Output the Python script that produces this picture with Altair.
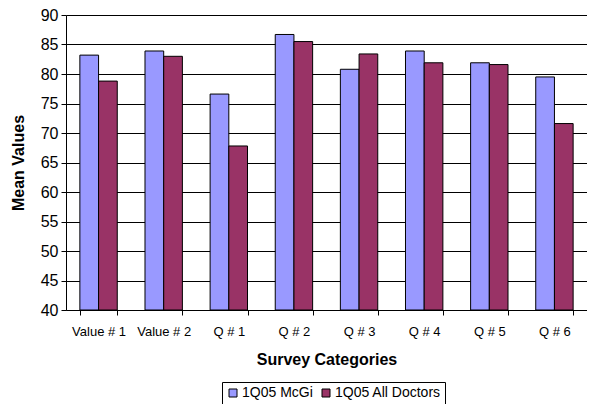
import altair as alt
import pandas as pd

categories = ["Value  # 1", "Value # 2", "Q # 1", "Q # 2", "Q # 3", "Q # 4", "Q # 5", "Q  # 6"]
series = ["1Q05 McGi", "1Q05 All Doctors"]
mcgi = [83.2, 83.9, 76.6, 86.7, 80.8, 83.9, 81.9, 79.5]
all_doctors = [78.8, 83.0, 67.8, 85.5, 83.4, 81.9, 81.6, 71.6]
colors = ["#9999FF", "#993366"]

rows = []
for c, a, b in zip(categories, mcgi, all_doctors):
    rows.append({"cat": c, "series": series[0], "value": a})
    rows.append({"cat": c, "series": series[1], "value": b})
df = pd.DataFrame(rows)

FONT = "Liberation Sans"

chart = alt.Chart(df).mark_bar(stroke="black", strokeWidth=1).encode(
    x=alt.X("cat:N", sort=categories,
            scale=alt.Scale(paddingInner=0.426, paddingOuter=0.213),
            axis=alt.Axis(title="Survey Categories", labelAngle=0, grid=False,
                          tickBand="extent", domainColor="black", tickColor="black",
                          tickSize=5, labelFontSize=13, labelPadding=10,
                          titleFontSize=16, titleFontWeight="bold", titlePadding=13,
                          labelColor="black", titleColor="black", labelFont=FONT, titleFont=FONT)),
    xOffset=alt.XOffset("series:N", sort=series, scale=alt.Scale(paddingInner=0, paddingOuter=0)),
    y=alt.Y("value:Q", scale=alt.Scale(domain=[40, 90], zero=False, nice=False),
            axis=alt.Axis(title="Mean Values", values=list(range(40, 91, 5)), grid=True,
                          gridColor="black", gridOpacity=1, domainColor="black",
                          tickColor="black", tickSize=5, labelFontSize=16, labelPadding=3,
                          titleFontSize=16, titleFontWeight="bold", titlePadding=14,
                          labelColor="black", titleColor="black", labelFont=FONT, titleFont=FONT)),
    y2=alt.datum(40),
    color=alt.Color("series:N", sort=series,
                    scale=alt.Scale(domain=series, range=colors),
                    legend=alt.Legend(title=None, orient="none", legendX=156, legendY=367,
                                      direction="horizontal", strokeColor="black", padding=4,
                                      symbolType="square", symbolSize=64,
                                      symbolStrokeColor="black", symbolStrokeWidth=1,
                                      labelFontSize=14, labelFont=FONT, labelColor="black",
                                      columnPadding=6, labelOffset=2)),
).properties(
    width=521, height=295,
    autosize=alt.AutoSizeParams(type="none"),
    padding={"left": 58, "top": 7, "right": 0, "bottom": 94},
).configure_view(stroke=None).configure(background="white")

chart.save("out.html", embed_options={"renderer": "svg", "actions": False})
